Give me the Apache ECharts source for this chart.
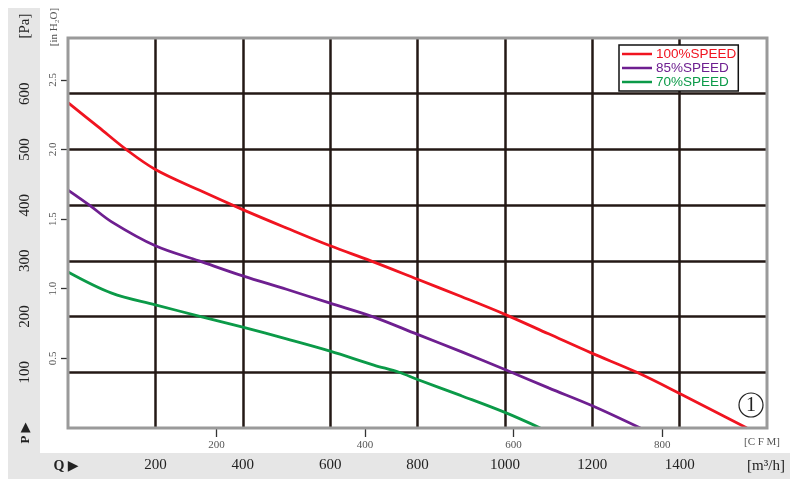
<!DOCTYPE html>
<html>
<head>
<meta charset="utf-8">
<script src="https://cdn.jsdelivr.net/npm/echarts@6/dist/echarts.min.js"></script>
<style>html,body{margin:0;padding:0;background:#fff;}#c{width:800px;height:500px;}</style>
</head>
<body>
<div id="c"></div>
<script>
// ---- data (Q in m³/h, P in Pa) ----
const seriesNames = ['100%SPEED', '85%SPEED', '70%SPEED'];
const redQ = [0, 70, 133, 200, 300, 400, 500, 600, 693, 800, 900, 1000, 1100, 1200, 1302, 1400, 1554];
const redP = [584, 540, 500, 464, 427, 392, 359, 327, 300, 267, 236, 204, 169, 134, 100, 62, 0];
const purpleQ = [0, 49, 100, 200, 300, 400, 500, 600, 697, 800, 900, 1000, 1100, 1200, 1310];
const purpleP = [427, 400, 370, 327, 300, 273, 249, 224, 200, 168, 137, 105, 72, 40, 0];
const greenQ = [0, 100, 200, 304, 400, 500, 600, 700, 758, 800, 900, 1000, 1081];
const greenP = [280, 242, 221, 200, 181, 160, 138, 113, 100, 87, 58, 28, 0];
const cfmTicks = [200, 400, 600, 800];
const inH2OTicks = [0.5, 1.0, 1.5, 2.0, 2.5];
const qMax = 1600, pMax = 700;
const M3H_PER_CFM = 1.70, PA_PER_INH2O = 250;

const zip = (a, b) => a.map((v, i) => [v, b[i]]);
const colors = ['#f01420', '#6e1f90', '#0b9a48'];
const serif = '"Liberation Serif", "DejaVu Serif", serif';
const sans = '"Liberation Sans", Arial, sans-serif';

const chart = echarts.init(document.getElementById('c'), null, {renderer: 'canvas'});
const gridL = 68, gridT = 38, gridR = 33, gridB = 72;

chart.setOption({
  animation: false,
  backgroundColor: '#fff',
  graphic: [
    {type: 'rect', z: -10, shape: {x: 8, y: 8, width: 32, height: 471}, style: {fill: '#e6e6e6'}},
    {type: 'rect', z: -10, shape: {x: 8, y: 453, width: 782, height: 26}, style: {fill: '#e6e6e6'}},
    {type: 'rect', z: 50, shape: {x: gridL, y: gridT, width: 800 - gridL - gridR, height: 500 - gridT - gridB},
      style: {fill: 'none', stroke: '#9a9a9a', lineWidth: 3}},
    {type: 'text', z: 60, x: 25, y: 26, rotation: Math.PI / 2,
      style: {text: '[Pa]', font: '15px ' + serif, fill: '#222', align: 'center', verticalAlign: 'middle'}},
    {type: 'text', z: 60, x: 54, y: 27, rotation: Math.PI / 2,
      style: {text: '[in H\u2082O]', font: '11px ' + serif, fill: '#555', align: 'center', verticalAlign: 'middle'}},
    {type: 'text', z: 60, x: 26, y: 433, rotation: Math.PI / 2,
      style: {text: 'P \u25B6', font: 'bold 13px ' + serif, fill: '#222', align: 'center', verticalAlign: 'middle'}},
    {type: 'text', z: 60, x: 66, y: 466,
      style: {text: 'Q \u25B6', font: 'bold 14px ' + serif, fill: '#222', align: 'center', verticalAlign: 'middle'}},
    {type: 'text', z: 60, x: 766, y: 466,
      style: {text: '[m\u00B3/h]', font: '15px ' + serif, fill: '#222', align: 'center', verticalAlign: 'middle'}},
    {type: 'text', z: 60, x: 762, y: 442,
      style: {text: '[C F M]', font: '11px ' + serif, fill: '#555', align: 'center', verticalAlign: 'middle'}},
    {type: 'circle', z: 60, shape: {cx: 751, cy: 405, r: 12}, style: {fill: 'none', stroke: '#222', lineWidth: 1.2}},
    {type: 'text', z: 60, x: 751, y: 406,
      style: {text: '1', font: '20px ' + serif, fill: '#222', align: 'center', verticalAlign: 'middle'}}
  ],
  grid: {left: gridL, right: gridR, top: gridT, bottom: gridB, show: false},
  legend: {
    orient: 'vertical', left: 619, top: 45,
    padding: [2, 2, 2, 3], itemGap: 0,
    itemWidth: 30, itemHeight: 2.5, icon: 'rect',
    backgroundColor: '#fff', borderColor: '#111', borderWidth: 1.5, borderRadius: 0,
    z: 70,
    textStyle: {fontFamily: sans, fontSize: 13.5, lineHeight: 14, padding: [0, 0, 0, -1]},
    data: seriesNames.map((n, i) => ({name: n, textStyle: {color: colors[i]}}))
  },
  xAxis: [
    {
      type: 'value', min: 0, max: qMax, interval: 200, position: 'bottom',
      axisLine: {show: false}, axisTick: {show: false},
      axisLabel: {showMinLabel: false, showMaxLabel: false, margin: 30,
        fontFamily: serif, fontSize: 15, color: '#222', formatter: v => String(v)},
      splitLine: {show: true, showMinLine: false, showMaxLine: false,
        lineStyle: {color: '#231815', width: 2.5}}
    },
    {
      type: 'value', min: 0, max: qMax / M3H_PER_CFM, position: 'bottom',
      axisLine: {show: false},
      axisTick: {show: true, customValues: cfmTicks, length: 9, inside: false,
        lineStyle: {color: '#333', width: 1.3}},
      axisLabel: {customValues: cfmTicks, margin: 12, fontFamily: serif, fontSize: 11, color: '#555',
        formatter: v => String(v)},
      splitLine: {show: false}
    }
  ],
  yAxis: [
    {
      type: 'value', min: 0, max: pMax, interval: 100, position: 'left',
      axisLine: {show: false}, axisTick: {show: false},
      axisLabel: {showMinLabel: false, showMaxLabel: false, margin: 35, rotate: 90,
        fontFamily: serif, fontSize: 15, color: '#222', formatter: v => String(v)},
      splitLine: {show: true, showMinLine: false, showMaxLine: false,
        lineStyle: {color: '#231815', width: 2.5}}
    },
    {
      type: 'value', min: 0, max: pMax / PA_PER_INH2O, position: 'left',
      axisLine: {show: false},
      axisTick: {show: true, customValues: inH2OTicks, length: 7, inside: false,
        lineStyle: {color: '#333', width: 1.3}},
      axisLabel: {customValues: inH2OTicks, margin: 9, rotate: 90, fontFamily: serif, fontSize: 11, color: '#555',
        formatter: v => v.toFixed(1)},
      splitLine: {show: false}
    }
  ],
  series: [
    {name: seriesNames[0], data: zip(redQ, redP)},
    {name: seriesNames[1], data: zip(purpleQ, purpleP)},
    {name: seriesNames[2], data: zip(greenQ, greenP)}
  ].map((s, i) => Object.assign(s, {
    type: 'line', xAxisIndex: 0, yAxisIndex: 0, smooth: 0.35,
    showSymbol: false, symbol: 'none', z: 20,
    lineStyle: {color: colors[i], width: 2.8}, itemStyle: {color: colors[i]}
  }))
});
</script>
</body>
</html>
